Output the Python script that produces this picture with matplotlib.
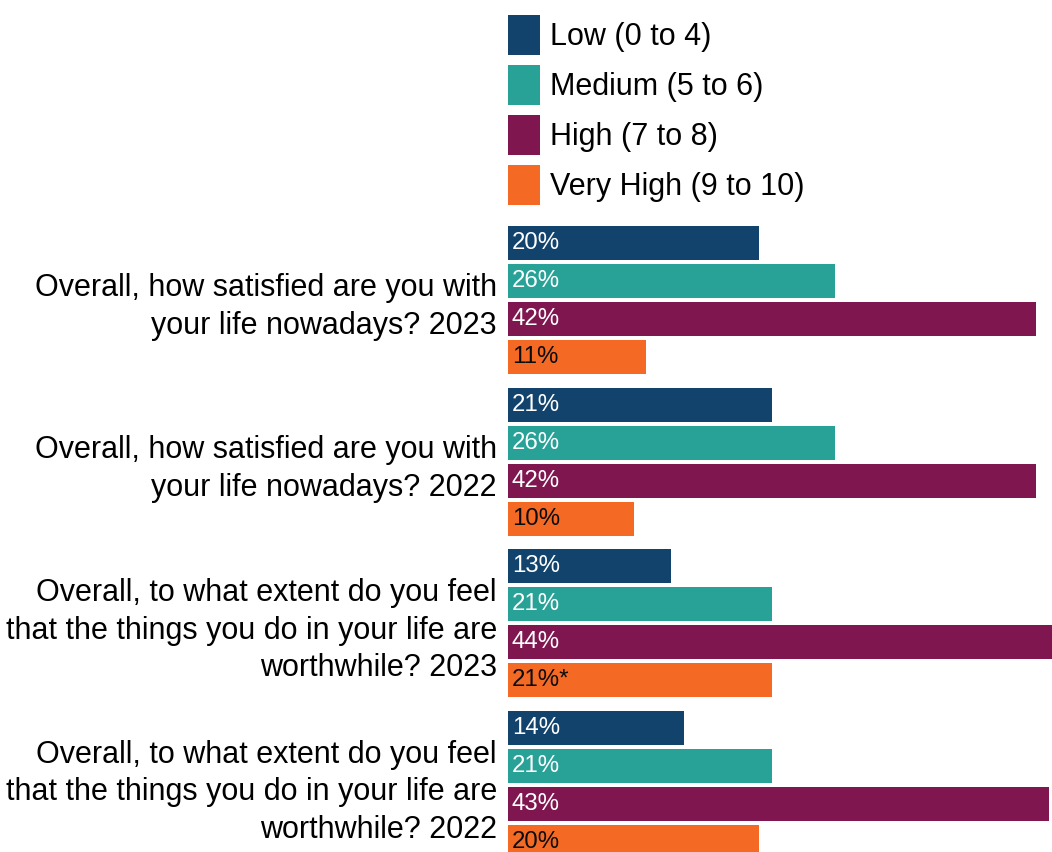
import matplotlib
matplotlib.use("Agg")
import matplotlib.pyplot as plt
from matplotlib.patches import Patch

plt.rcParams['font.family'] = ['Liberation Sans', 'DejaVu Sans']

questions = [
    "Overall, how satisfied are you with\nyour life nowadays? 2023",
    "Overall, how satisfied are you with\nyour life nowadays? 2022",
    "Overall, to what extent do you feel\nthat the things you do in your life are\nworthwhile? 2023",
    "Overall, to what extent do you feel\nthat the things you do in your life are\nworthwhile? 2022",
]
series_names = ["Low (0 to 4)", "Medium (5 to 6)", "High (7 to 8)", "Very High (9 to 10)"]
low = [20, 21, 13, 14]
medium = [26, 26, 21, 21]
high = [42, 42, 44, 43]
very_high = [11, 10, 21, 20]
label_suffix = [["", "", "", ""], ["", "", "", ""], ["", "", "", ""], ["", "", "*", ""]]
colors = ["#12436D", "#28A197", "#801650", "#F46A25"]
text_colors = ["white", "white", "white", "#0b0c0c"]

W, H = 1052, 852
fig = plt.figure(figsize=(W / 100, H / 100), dpi=100)
ax_left = 508 / W
ax_top = 226 / H
ax = fig.add_axes([ax_left, 0, 1 - ax_left, 1 - ax_top])

series = [low, medium, high, very_high]
group_step = 161.7 / 38.0
bar_h = 34 / 38.0
for si, vals in enumerate(series):
    ys = [g * group_step + si for g in range(len(questions))]
    ax.barh(ys, vals, height=bar_h, color=colors[si], linewidth=0)
    for g, v in enumerate(vals):
        ax.text(0.3, ys[g], f"{v}%{label_suffix[si][g]}", color=text_colors[si],
                fontsize=17.3, va="center", ha="left")

top = -bar_h / 2
bottom = top + (852 - 226) / 38.0
ax.set_ylim(bottom, top)
ax.set_xlim(0, 544 / 12.57)

centers = [g * group_step + 1.5 for g in range(len(questions))]
ax.set_yticks(centers)
ax.set_yticklabels(questions, fontsize=22, ha="right", linespacing=1.33)
ax.tick_params(axis="y", length=0, pad=8)
ax.set_xticks([])
for s in ax.spines.values():
    s.set_visible(False)

handles = [Patch(facecolor=c, edgecolor="none") for c in colors]
fig.legend(handles, series_names, loc="upper left",
           bbox_to_anchor=(508 / W, 1 - 15 / H), frameon=False, fontsize=22,
           borderpad=0, borderaxespad=0, handlelength=1.05, handleheight=1.63,
           labelspacing=0.33, handletextpad=0.33)

fig.savefig("out.png", dpi=100)
